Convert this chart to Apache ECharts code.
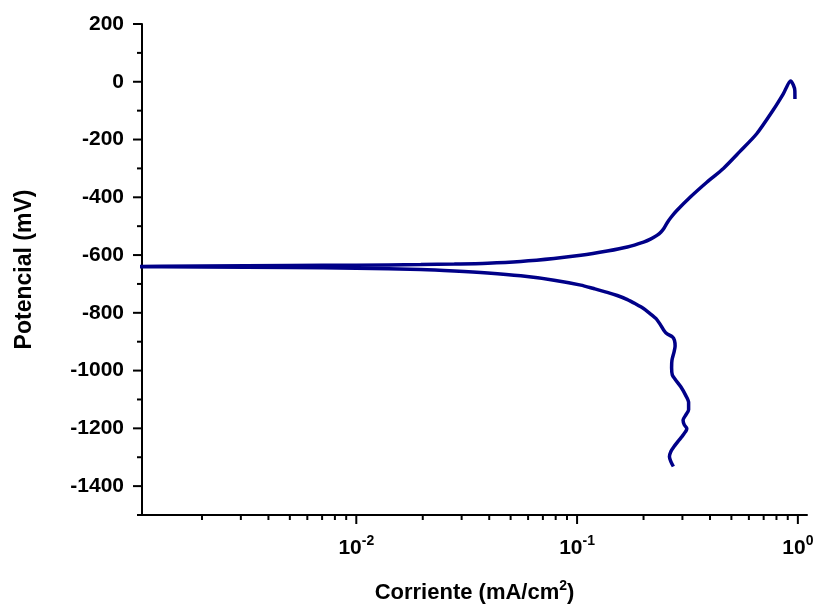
<!DOCTYPE html>
<html>
<head>
<meta charset="utf-8">
<script src="https://cdn.jsdelivr.net/npm/echarts@6/dist/echarts.min.js"></script>
<style>html,body{margin:0;padding:0;background:#fff}#c{width:815px;height:604px}</style>
</head>
<body>
<div id="c"></div>
<script>
// Current density (mA/cm2), ordered along the scan
const current = [
  0.273, 0.266, 0.262, 0.266, 0.275, 0.288, 0.298, 0.312, 0.314, 0.306,
  0.302, 0.310, 0.320, 0.320, 0.310, 0.295, 0.278, 0.270, 0.268, 0.269,
  0.275, 0.278, 0.276, 0.270, 0.255, 0.247, 0.238, 0.228, 0.212, 0.200,
  0.185, 0.169, 0.152, 0.137, 0.119, 0.104, 0.0786, 0.0556, 0.0394, 0.0278,
  0.0196, 0.0100, 0.0050, 0.0020, 0.0008,
  0.0008, 0.0020, 0.0050, 0.0100, 0.0196, 0.0278, 0.0394, 0.0556, 0.0786, 0.104,
  0.137, 0.169, 0.200, 0.215, 0.230, 0.240, 0.248, 0.256, 0.266, 0.283,
  0.325, 0.387, 0.460, 0.547, 0.651, 0.773, 0.859, 0.927, 0.955, 0.969, 0.970
];
// Potential (mV)
const potential = [
  -1332, -1315, -1298, -1280, -1263, -1243, -1229, -1208, -1200, -1188,
  -1171, -1155, -1136, -1110, -1085, -1056, -1030, -1015, -990, -964,
  -935, -915, -895, -883, -872, -860, -840, -820, -800, -785,
  -770, -754, -740, -729, -716, -704, -687, -672, -662, -655,
  -650, -646, -643, -641, -640,
  -639, -638, -636, -635, -633, -631, -628, -622, -612, -601,
  -586, -572, -555, -545, -532, -520, -506, -488, -470, -446,
  -400, -348, -300, -241, -180, -98, -42, 3, -12, -31, -60
];
const xMajorTicks = [0.01, 0.1, 1];
const xMinorTicks = [0.002,0.003,0.004,0.005,0.006,0.007,0.008,0.009,
                     0.02,0.03,0.04,0.05,0.06,0.07,0.08,0.09,
                     0.2,0.3,0.4,0.5,0.6,0.7,0.8,0.9];
const yMajorTicks = [200, 0, -200, -400, -600, -800, -1000, -1200, -1400];
const yMinorTicks = [100, -100, -300, -500, -700, -900, -1100, -1300, -1500];

const X_MIN = 0.00107, X_MAX = 1.1, Y_MIN = -1500, Y_MAX = 200;
const FONT = 'Arial, "Liberation Sans", sans-serif';

const curve = current.map((c, i) => [c, potential[i]]);
const tickData = [];
xMajorTicks.forEach(v => tickData.push([v, Y_MIN, 0, 9]));
xMinorTicks.forEach(v => tickData.push([v, Y_MIN, 0, 5]));
yMajorTicks.forEach(v => tickData.push([X_MIN, v, 1, 9]));
yMinorTicks.forEach(v => tickData.push([X_MIN, v, 1, 5]));

const supLabel = v => {
  const e = Math.round(Math.log10(v));
  if (Math.abs(v - Math.pow(10, e)) / Math.pow(10, e) > 1e-6) return '';
  return '{b|10}{s|' + e + '}';
};

const chart = echarts.init(document.getElementById('c'), null, {renderer: 'canvas'});
chart.setOption({
  animation: false,
  backgroundColor: '#fff',
  grid: {left: 142, right: 8, top: 24, bottom: 89, containLabel: false, outerBoundsMode: 'none'},
  xAxis: {
    type: 'log', logBase: 10, min: X_MIN, max: X_MAX,
    axisLine: {onZero: false, lineStyle: {color: '#000', width: 2}},
    axisTick: {show: false},
    splitLine: {show: false},
    axisLabel: {
      margin: 19, showMinLabel: false, showMaxLabel: false,
      formatter: supLabel,
      rich: {
        b: {fontSize: 21, fontWeight: 'bold', fontFamily: FONT, color: '#000'},
        s: {fontSize: 14, fontWeight: 'bold', fontFamily: FONT, color: '#000', padding: [0, 0, 14, 0]}
      }
    },
    name: '{t|Corriente (mA/cm}{s|2}{t|)}',
    nameLocation: 'middle', nameGap: 64,
    nameTextStyle: {
      rich: {
        t: {fontSize: 22, fontWeight: 'bold', fontFamily: FONT, color: '#000'},
        s: {fontSize: 14, fontWeight: 'bold', fontFamily: FONT, color: '#000', padding: [0, 0, 14, 0]}
      }
    }
  },
  yAxis: {
    type: 'value', min: Y_MIN, max: Y_MAX, interval: 100,
    axisLine: {onZero: false, lineStyle: {color: '#000', width: 2}},
    axisTick: {show: false},
    splitLine: {show: false},
    axisLabel: {
      margin: 18, fontSize: 21, fontWeight: 'bold', fontFamily: FONT, color: '#000',
      formatter: v => (v % 200 === 0 ? String(v) : '')
    },
    name: 'Potencial (mV)',
    nameLocation: 'middle', nameGap: 106,
    nameTextStyle: {fontSize: 23, fontWeight: 'bold', fontFamily: FONT, color: '#000'}
  },
  series: [
    {
      type: 'line', data: curve, showSymbol: false, symbol: 'none',
      smooth: 0.25, clip: true,
      lineStyle: {color: '#000088', width: 3.5}
    },
    {
      type: 'custom', silent: true, clip: false, z: 10,
      data: tickData,
      encode: {x: 0, y: 1},
      renderItem: (params, api) => {
        const p = api.coord([api.value(0), api.value(1)]);
        const isY = api.value(2) === 1;
        const len = api.value(3);
        return {
          type: 'line',
          shape: isY ? {x1: p[0], y1: p[1], x2: p[0] - len, y2: p[1]}
                     : {x1: p[0], y1: p[1], x2: p[0], y2: p[1] + len},
          style: {stroke: '#000', lineWidth: 2}
        };
      }
    }
  ]
});
</script>
</body>
</html>
